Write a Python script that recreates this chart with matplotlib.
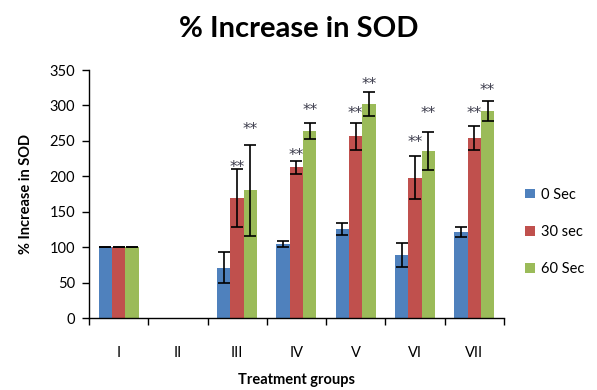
import numpy as np
import matplotlib
matplotlib.use("Agg")
import matplotlib.pyplot as plt
from matplotlib.patches import Patch

groups = ["I", "II", "III", "IV", "V", "VI", "VII"]
series_names = ["0 Sec", "30 sec", "60 Sec"]
colors = ["#4F81BD", "#C0504D", "#9BBB59"]

sec0 = [100, 0, 71, 104.5, 125, 89.5, 121.5]
sec30 = [100, 0, 169, 212.5, 256.5, 198, 254]
sec60 = [100, 0, 180, 264, 302, 235.5, 292.5]

err0 = [0, 0, 22, 4.5, 8.5, 17, 7]
err30 = [0, 0, 41, 9, 19, 30, 17]
err60 = [0, 0, 64, 11, 17, 26.5, 14]

# significance marks: (group index, series index, label height)
sig_marks = [
    (2, 1, 213), (2, 2, 266),
    (3, 1, 230), (3, 2, 293),
    (4, 1, 289), (4, 2, 329),
    (5, 1, 248), (5, 2, 288),
    (6, 1, 288), (6, 2, 321),
]

plt.rcParams["font.family"] = ["Lato", "DejaVu Sans"]

fig = plt.figure(figsize=(5.97, 3.90), dpi=100)
ax = fig.add_axes([0.149, 0.1846, 0.695, 0.6359])

x = np.arange(len(groups))
width = 0.225
values = [sec0, sec30, sec60]
errors = [err0, err30, err60]
for i, (vals, errs) in enumerate(zip(values, errors)):
    pos = x + (i - 1) * width
    v = np.array(vals, dtype=float)
    e = np.array(errs, dtype=float)
    mask = v > 0
    ax.bar(pos[mask], v[mask], width, color=colors[i], edgecolor="none", zorder=2)
    ax.errorbar(pos[mask], v[mask], yerr=e[mask], fmt="none", ecolor="black",
                elinewidth=1.2, capsize=4, capthick=1.2, zorder=3)

for g, s, h in sig_marks:
    ax.text(x[g] + (s - 1) * width, h, "**", ha="center", va="center",
            fontsize=11, color="#3a3a4a", family="DejaVu Sans", zorder=4)

ax.set_xlim(-0.5, len(groups) - 0.5)
ax.set_ylim(0, 350)
ax.set_yticks(np.arange(0, 351, 50))
ax.set_xticks(x)
ax.set_xticklabels(groups, fontsize=10.5)
ax.tick_params(axis="x", which="major", length=0, pad=20)
ax.set_xticks(np.arange(-0.5, len(groups), 1.0), minor=True)
ax.tick_params(axis="x", which="minor", length=5, width=1, direction="out")
ax.tick_params(axis="y", length=5, width=1, direction="out", labelsize=10.5, pad=5)

for side in ["top", "right"]:
    ax.spines[side].set_visible(False)
for side in ["left", "bottom"]:
    ax.spines[side].set_linewidth(1)
    ax.spines[side].set_color("black")

ax.set_ylabel("% Increase in SOD", fontsize=10.5, fontweight="bold", labelpad=12)
fig.text(0.497, 0.025, "Treatment groups", ha="center", va="center",
         fontsize=10.5, fontweight="bold")
fig.text(0.5, 0.925, "% Increase in SOD", ha="center", va="center",
         fontsize=21, fontweight="bold")

handles = [Patch(facecolor=c, edgecolor="none") for c in colors]
fig.legend(handles, series_names, loc="center left", bbox_to_anchor=(0.880, 0.405),
           frameon=False, fontsize=10.5, handlelength=0.65, handleheight=0.65,
           handletextpad=0.45, labelspacing=1.6, borderpad=0, borderaxespad=0)

fig.savefig("out.png", dpi=100)
